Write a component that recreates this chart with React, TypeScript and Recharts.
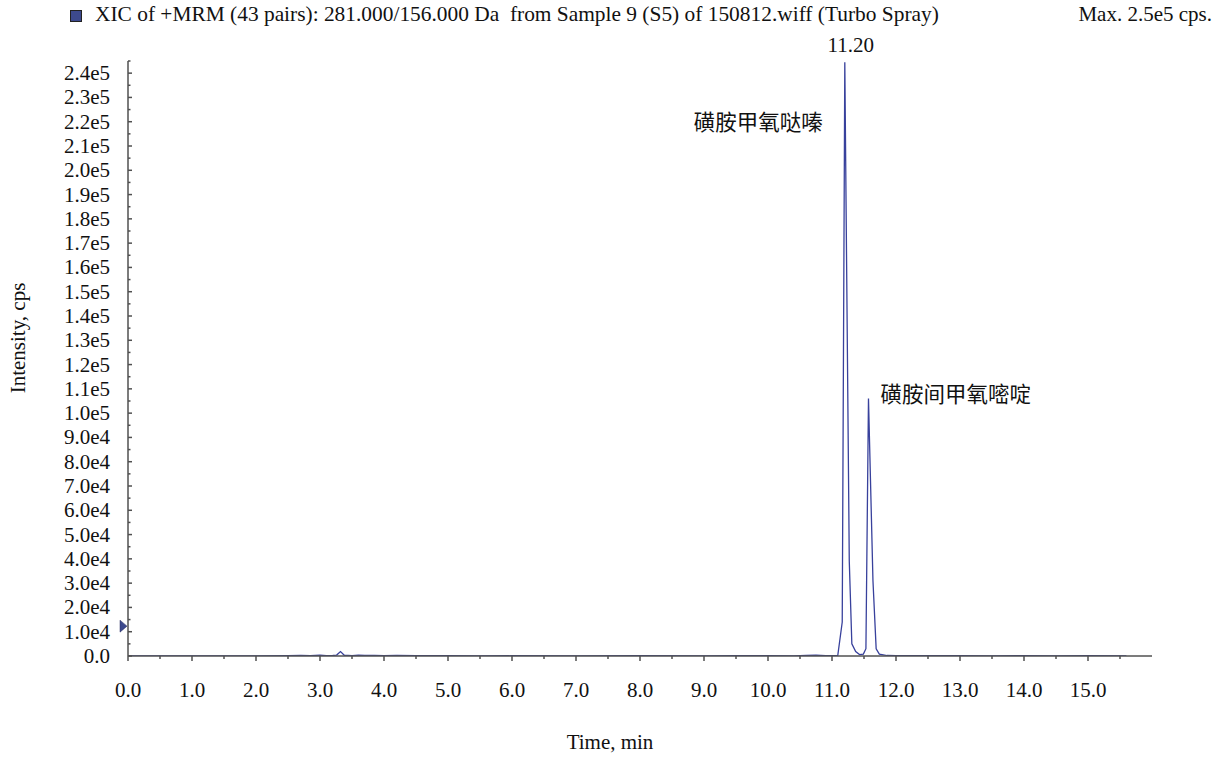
import React from 'react'
import { LineChart, Line, XAxis, YAxis, ReferenceDot } from 'recharts'

// retention time (min) and intensity (cps)
const times = [
  0.0, 0.5, 1.0, 1.5, 2.0, 2.5, 2.7, 2.85, 3.0, 3.1, 3.2, 3.26, 3.32, 3.38, 3.5, 3.6, 3.7, 3.85, 4.0,
  4.2, 4.5, 5.0, 5.5, 6.0, 7.0, 8.0, 9.0, 9.5, 10.0, 10.4, 10.6, 10.75, 10.9, 11.0, 11.09, 11.16,
  11.2, 11.27, 11.31, 11.37, 11.43, 11.49, 11.53, 11.57, 11.64, 11.69, 11.74, 11.86, 12.0, 12.5,
  13.0, 13.5, 14.0, 14.5, 15.0, 15.6,
]
const intensities = [
  0, 0, 0, 0, 0, 100, 250, 150, 300, 100, 200, 400, 1800, 300, 150, 300, 250, 200, 150,
  250, 100, 150, 0, 100, 0, 100, 0, 100, 100, 0, 200, 400, 100, 100, 200, 14000,
  244500, 39000, 5000, 1800, 600, 800, 3000, 106000, 31000, 3000, 800, 200, 100, 150,
  100, 0, 150, 0, 100, 0,
]

const peakTimes = [11.2, 11.57]
const peakHeights = [244500, 106000]
const peakNames = ['磺胺甲氧哒嗪', '磺胺间甲氧嘧啶']

const xTicks = Array.from({ length: 32 }, (_, i) => i * 0.5)
const yTicks = Array.from({ length: 50 }, (_, i) => i * 5000)

const title = 'XIC of +MRM (43 pairs): 281.000/156.000 Da\u00a0\u00a0from Sample 9 (S5) of 150812.wiff (Turbo Spray)'
const maxText = 'Max. 2.5e5 cps.'

const data = times.map((t, k) => ({ t, i: intensities[k] }))

const AXIS = '#505050'
const TRACE = '#38419c'
const FONT = '"Liberation Serif", "Times New Roman", serif'
const CJK = '"Noto Sans CJK SC", sans-serif'
const FS = 21

function fmtY(v: number) {
  if (v === 0) return '0.0'
  const e = Math.floor(Math.log10(v) + 1e-9)
  return (v / Math.pow(10, e)).toFixed(1) + 'e' + e
}

function XTick({ x, y, payload }: any) {
  const v = payload.value
  const major = Math.abs(v - Math.round(v)) < 1e-6
  return (
    <g>
      <line x1={x} x2={x} y1={y} y2={y + (major ? 5 : 3)} stroke={AXIS} strokeWidth={1.5} />
      {major && (
        <text x={x} y={y + 34} textAnchor="middle" dominantBaseline="central" fontFamily={FONT} fontSize={FS} fill="#111">
          {v.toFixed(1)}
        </text>
      )}
    </g>
  )
}

function YTick({ x, y, payload }: any) {
  const v = payload.value
  const major = v % 10000 === 0
  return (
    <g>
      <line x1={x} x2={x + (major ? 4 : 2.5)} y1={y} y2={y} stroke={AXIS} strokeWidth={1.5} />
      {major && (
        <text x={x - 18} y={y} textAnchor="end" dominantBaseline="central" fontFamily={FONT} fontSize={FS} fill="#111">
          {fmtY(v)}
        </text>
      )}
    </g>
  )
}

export default function App() {
  return (
    <div style={{ position: 'fixed', left: 0, top: 0, width: 1224, height: 758, background: '#fff', fontFamily: FONT }}>
      <div style={{ position: 'absolute', left: 70, top: 10, width: 10, height: 10, background: '#3d4a8e', border: '1px solid #222' }} />
      <div style={{ position: 'absolute', left: 95, top: 2, fontSize: 21.4, color: '#111', whiteSpace: 'pre' }}>{title}</div>
      <div style={{ position: 'absolute', right: 12, top: 2, fontSize: FS, color: '#111' }}>{maxText}</div>
      <LineChart width={1224} height={758} data={data} margin={{ top: 61, right: 72, bottom: 42, left: 0 }}>
        <XAxis
          dataKey="t"
          type="number"
          domain={[0, 16]}
          ticks={xTicks}
          interval={0}
          height={60}
          stroke={AXIS}
          strokeWidth={1.5}
          tickLine={false}
          tickSize={0}
          tickMargin={0}
          tick={<XTick />}
          label={(p: any) => (
            <text x={610} y={p.viewBox.y + 86} textAnchor="middle" dominantBaseline="central" fontFamily={FONT} fontSize={FS} fill="#111">
              Time, min
            </text>
          )}
        />
        <YAxis
          type="number"
          domain={[0, 245000]}
          allowDataOverflow
          ticks={yTicks}
          interval={0}
          width={128}
          stroke={AXIS}
          strokeWidth={1.5}
          tickLine={false}
          tickSize={0}
          tickMargin={0}
          tick={<YTick />}
          label={() => (
            <text
              x={18}
              y={338}
              transform="rotate(-90, 18, 338)"
              textAnchor="middle"
              dominantBaseline="central"
              fontFamily={FONT}
              fontSize={FS}
              fill="#111"
            >
              Intensity, cps
            </text>
          )}
        />
        <Line type="linear" dataKey="i" stroke={TRACE} strokeWidth={1.3} dot={false} isAnimationActive={false} />
        <ReferenceDot
          x={0}
          y={12300}
          r={6}
          ifOverflow="visible"
          shape={(p: any) => (
            <path d={`M${p.cx - 8},${p.cy - 6} L${p.cx - 1},${p.cy} L${p.cx - 8},${p.cy + 6} Z`} fill="#3d4a8e" stroke="#2a2f60" strokeWidth={0.5} />
          )}
        />
        <ReferenceDot
          x={peakTimes[0]}
          y={peakHeights[0]}
          r={0}
          ifOverflow="visible"
          label={(p: any) => (
            <g>
              <text x={p.viewBox.x + 6} y={p.viewBox.y - 17} textAnchor="middle" dominantBaseline="central" fontFamily={FONT} fontSize={FS} fill="#111">
                {peakTimes[0].toFixed(2)}
              </text>
              <text x={p.viewBox.x - 22} y={p.viewBox.y + 58} textAnchor="end" dominantBaseline="central" fontFamily={CJK} fontSize={21.5} fill="#111">
                {peakNames[0]}
              </text>
            </g>
          )}
        />
        <ReferenceDot
          x={peakTimes[1]}
          y={peakHeights[1]}
          r={0}
          ifOverflow="visible"
          label={(p: any) => (
            <text x={p.viewBox.x + 12} y={p.viewBox.y - 6} textAnchor="start" dominantBaseline="central" fontFamily={CJK} fontSize={21.5} fill="#111">
              {peakNames[1]}
            </text>
          )}
        />
      </LineChart>
    </div>
  )
}
